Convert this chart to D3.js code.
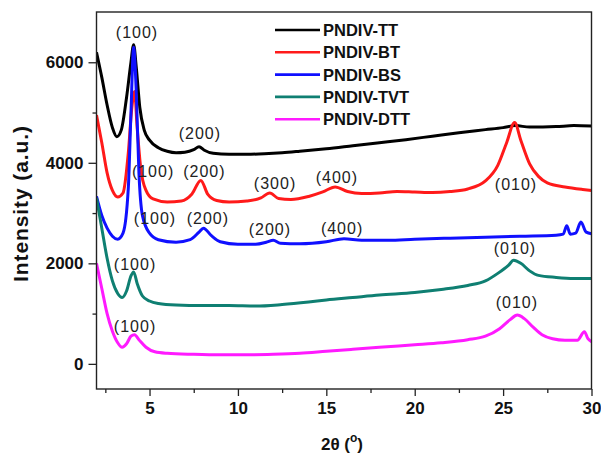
<!DOCTYPE html>
<meta charset="utf-8">
<head>
<style>
body { margin: 0; background: #fff; }
text { font-family: "Liberation Sans", Arial, sans-serif; }
.tick text { font-size: 17px; font-weight: bold; fill: #111; }
.tick line { stroke: #222; stroke-width: 1.3px; }
.curve { fill: none; stroke-width: 3px; stroke-linejoin: round; }
.ann { font-size: 16px; letter-spacing: 1px; fill: #222; }
.legend text { font-size: 16.5px; font-weight: bold; fill: #111; }
</style>
</head>
<body>
<script src="https://d3js.org/d3.v7.min.js"></script>
<div id="chart"></div>
<script>

// XRD patterns, [2theta, intensity]
const tt = [[2,6200],[2.3,5700],[2.6,5150],[2.9,4700],[3.15,4520],[3.4,4650],[3.7,5300],[3.95,6000],[4.1,6350],[4.25,5900],[4.45,5100],[4.7,4650],[5,4450],[5.5,4300],[6,4230],[6.5,4200],[7,4210],[7.5,4260],[7.8,4320],[8.1,4250],[8.6,4190],[9.5,4170],[10.5,4170],[11.5,4180],[12.5,4200],[13.5,4230],[15,4280],[16.5,4340],[18,4400],[19.5,4460],[21,4530],[22.5,4600],[24,4660],[25,4700],[25.7,4740],[26.5,4710],[28,4720],[29,4740],[30,4730]];
const bt = [[2,4950],[2.3,4400],[2.6,3800],[2.9,3450],[3.2,3320],[3.5,3400],[3.8,4200],[4.0,5100],[4.15,5420],[4.3,4700],[4.5,3900],[4.8,3450],[5.2,3280],[6,3220],[6.8,3240],[7.4,3380],[7.9,3650],[8.3,3370],[8.8,3250],[9.5,3220],[10.5,3240],[11.3,3300],[11.8,3400],[12.3,3290],[13,3270],[14,3330],[14.8,3420],[15.5,3520],[16.2,3430],[17,3390],[18,3400],[19,3430],[20,3420],[21,3410],[22,3430],[23,3480],[24,3640],[24.7,3950],[25.2,4400],[25.65,4800],[26,4450],[26.5,3980],[27,3730],[27.5,3600],[28.5,3520],[29.5,3470],[30,3450]];
const bs = [[2,3330],[2.3,2950],[2.6,2700],[2.9,2540],[3.2,2480],[3.5,2600],[3.8,3500],[3.95,5000],[4.1,6300],[4.25,5400],[4.4,3800],[4.6,2950],[5,2600],[5.5,2470],[6.5,2420],[7.3,2470],[7.8,2620],[8.05,2700],[8.5,2550],[9,2430],[10,2380],[11,2380],[11.6,2420],[12,2460],[12.4,2400],[13.5,2390],[15,2430],[16,2490],[17,2460],[18.5,2460],[20,2480],[22,2500],[24,2520],[26,2540],[28,2560],[28.4,2580],[28.6,2750],[28.8,2580],[29.1,2600],[29.4,2820],[29.7,2620],[30,2590]];
const tvt = [[2,3300],[2.3,2700],[2.6,2100],[2.9,1650],[3.2,1400],[3.45,1320],[3.7,1450],[3.95,1750],[4.1,1830],[4.3,1600],[4.6,1350],[5,1250],[5.5,1200],[6.5,1170],[8,1160],[9.5,1160],[11,1150],[12.5,1180],[14,1230],[15,1270],[16.5,1320],[18,1370],[20,1420],[21.5,1480],[23,1560],[24,1650],[24.7,1800],[25.3,1960],[25.6,2060],[26,2000],[26.5,1850],[27,1760],[28,1720],[29,1700],[30,1700]];
const dtt = [[2,2000],[2.3,1500],[2.6,1000],[2.9,650],[3.2,420],[3.45,330],[3.7,400],[3.95,550],[4.15,580],[4.4,480],[4.8,330],[5.3,240],[6,210],[7.5,190],[9,180],[10.5,180],[12,190],[13.5,210],[15,250],[16.5,290],[18,330],[20,380],[21.5,420],[23,480],[24,550],[24.8,700],[25.4,880],[25.8,970],[26.2,900],[26.7,730],[27.2,580],[27.8,500],[28.5,470],[29.2,470],[29.6,640],[29.8,500],[30,440]];

const names = ["PNDIV-TT", "PNDIV-BT", "PNDIV-BS", "PNDIV-TVT", "PNDIV-DTT"];
const colors = ["#000000", "#ff1a1a", "#1010ff", "#0f7f72", "#ff1aff"];
const series = [tt, bt, bs, tvt, dtt];

// peak labels: text, 2theta, intensity
const labelText = ["(100)", "(200)", "(100)", "(200)", "(300)", "(400)", "(010)", "(100)", "(200)", "(200)", "(400)", "(010)", "(100)", "(010)", "(100)"];
const labelX = [4.29, 7.85, 5.2, 8.1, 12.1, 15.6, 25.73, 5.31, 8.3, 11.81, 15.89, 25.67, 4.18, 25.78, 4.18];
const labelY = [6600, 4590, 3820, 3820, 3600, 3700, 3580, 2900, 2900, 2680, 2700, 2300, 1970, 1230, 750];

const xMajor = [5, 10, 15, 20, 25, 30];
const xMinor = [2.5, 7.5, 12.5, 17.5, 22.5, 27.5];
const yMajor = [0, 2000, 4000, 6000];
const yMinor = [1000, 3000, 5000];

const width = 601, height = 456;
const mLeft = 96.5, mRight = 591.5, mTop = 12, mBottom = 389;

const svg = d3.select("#chart").append("svg")
    .attr("width", width)
    .attr("height", height);

const x = d3.scaleLinear().domain([2, 30]).range([mLeft, mRight]);
const y = d3.scaleLinear().domain([-500, 7000]).range([mBottom, mTop]);

svg.append("clipPath").attr("id", "clip")
  .append("rect")
    .attr("x", mLeft).attr("y", mTop)
    .attr("width", mRight - mLeft).attr("height", mBottom - mTop);

const line = d3.line()
    .x(d => x(d[0]))
    .y(d => y(d[1]))
    .curve(d3.curveMonotoneX);

svg.append("g").attr("clip-path", "url(#clip)")
  .selectAll("path")
  .data(series)
  .enter().append("path")
    .attr("class", "curve")
    .attr("stroke", (d, i) => colors[i])
    .attr("d", line);

// axes
const gx = svg.append("g").attr("transform", `translate(0,${mBottom})`)
    .call(d3.axisBottom(x).tickValues(xMajor).tickSize(7).tickSizeOuter(0).tickPadding(6).tickFormat(d3.format("d")));
gx.select(".domain").remove();
svg.append("g").attr("transform", `translate(0,${mBottom})`)
    .call(d3.axisBottom(x).tickValues(xMinor).tickSize(4).tickFormat(""))
    .select(".domain").remove();

const gy = svg.append("g").attr("transform", `translate(${mLeft},0)`)
    .call(d3.axisLeft(y).tickValues(yMajor).tickSize(8).tickSizeOuter(0).tickPadding(5).tickFormat(d3.format("d")));
gy.select(".domain").remove();
svg.append("g").attr("transform", `translate(${mLeft},0)`)
    .call(d3.axisLeft(y).tickValues(yMinor).tickSize(4).tickFormat(""))
    .select(".domain").remove();

svg.append("rect")
    .attr("x", mLeft).attr("y", mTop)
    .attr("width", mRight - mLeft).attr("height", mBottom - mTop)
    .attr("fill", "none")
    .attr("stroke", "#222")
    .attr("stroke-width", 1.4);

// peak labels
svg.selectAll(".ann")
  .data(labelText)
  .enter().append("text")
    .attr("class", "ann")
    .attr("x", (d, i) => x(labelX[i]))
    .attr("y", (d, i) => y(labelY[i]))
    .attr("dy", "0.35em")
    .attr("text-anchor", "middle")
    .text(d => d);

// legend
const legend = svg.append("g").attr("class", "legend");
names.forEach(function(n, i) {
  const ly = 30 + i * 22.3;
  legend.append("line")
      .attr("x1", 275).attr("x2", 320)
      .attr("y1", ly).attr("y2", ly)
      .attr("stroke", colors[i])
      .attr("stroke-width", 2.6);
  legend.append("text")
      .attr("x", 323).attr("y", ly)
      .attr("dy", "0.36em")
      .text(n);
});

// axis titles
svg.append("text")
    .attr("transform", "translate(28,204) rotate(-90)")
    .attr("text-anchor", "middle")
    .attr("font-size", 21)
    .attr("font-weight", "bold")
    .attr("fill", "#111")
    .attr("textLength", 156)
    .attr("lengthAdjust", "spacing")
    .text("Intensity (a.u.)");

const xt = svg.append("text")
    .attr("x", 342).attr("y", 450)
    .attr("text-anchor", "middle")
    .attr("font-size", 17)
    .attr("font-weight", "bold")
    .attr("fill", "#111");
xt.append("tspan").text("2θ (");
xt.append("tspan").attr("dy", -8).attr("font-size", 12).text("o");
xt.append("tspan").attr("dy", 8).text(")");

</script>
</body>
